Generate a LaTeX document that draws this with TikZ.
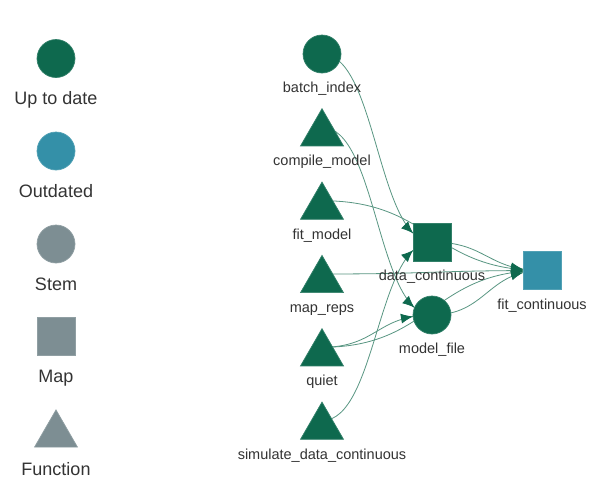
\documentclass[tikz,border=0pt]{standalone}
\usepackage{fontspec}
\setmainfont{Liberation Sans}
\usetikzlibrary{shapes.geometric,arrows.meta,decorations.markings,backgrounds}

\definecolor{uptodate}{RGB}{14,105,78}
\definecolor{outdated}{RGB}{52,144,168}
\definecolor{stem}{RGB}{125,142,147}
\definecolor{edgecol}{RGB}{88,150,130}
\definecolor{txt}{RGB}{51,51,51}

\tikzset{
  shp/.style={inner sep=0pt, outer sep=0pt, line width=0.7pt},
  target/.style={shp, circle, minimum size=38pt, fill=#1, draw=#1!85!white},
  mapbox/.style={shp, rectangle, minimum size=38pt, fill=#1, draw=#1!85!white},
  func/.style={shp, regular polygon, regular polygon sides=3, minimum size=49.6pt, fill=#1, draw=#1!85!white},
  lab/.style={anchor=base, text=txt, font=\fontsize{14.5}{17}\selectfont},
  leglab/.style={anchor=base, text=txt, font=\fontsize{18}{21}\selectfont},
  dep/.style={draw=edgecol, line width=0.8pt, postaction={decorate},
    decoration={markings, mark=at position -#1 with {\arrow[uptodate]{Latex[length=12pt,width=10pt]}}}},
}

\begin{document}
\begin{tikzpicture}[x=1pt,y=-1pt]
  \useasboundingbox (0,0) rectangle (599,488);
  % legend
  \node[target=uptodate] (leg-up) at (56,58.5) {};
  \node[leglab] (leg-up-lab) at (56,104) {Up to date};
  \node[target=outdated] (leg-out) at (56,151) {};
  \node[leglab] (leg-out-lab) at (56,197) {Outdated};
  \node[target=stem] (leg-stem) at (56,244) {};
  \node[leglab] (leg-stem-lab) at (56,290) {Stem};
  \node[mapbox=stem] (leg-map) at (56,336) {};
  \node[leglab] (leg-map-lab) at (56,382) {Map};
  \node[func=stem] (leg-fun) at (56,434.7) {};
  \node[leglab] (leg-fun-lab) at (56,475) {Function};

  % targets
  \node[target=uptodate] (batch) at (322,54) {};
  \node[lab] (batch-lab) at ([yshift=-38.5pt]batch) {batch\_index};
  \node[mapbox=uptodate] (data) at (432,242) {};
  \node[lab] (data-lab) at ([yshift=-38.5pt]data) {data\_continuous};
  \node[target=uptodate] (model) at (432,315) {};
  \node[lab] (model-lab) at ([yshift=-38.5pt]model) {model\_file};
  \node[mapbox=outdated] (fitc) at (542,270.5) {};
  \node[lab] (fitc-lab) at ([yshift=-38.5pt]fitc) {fit\_continuous};

  % functions
  \foreach \name/\y/\txt in {compile/127.3/compile\_model, fitmodel/200.7/fit\_model,
      mapreps/274/map\_reps, quiet/347.3/quiet, simulate/420.7/simulate\_data\_continuous} {
    \coordinate (\name) at (322,\y);
    \node[func=uptodate] (\name-tri) at ([yshift=-6.2pt]\name) {};
    \node[lab] (\name-lab) at ([yshift=-38.5pt]\name) {\txt};
  }

  % dependencies
  \begin{scope}[on background layer]
    \fill[white] (0,0) rectangle (599,488);
    \draw[dep=21.3pt] (batch.center) .. controls +(55,0) and +(-55,0) .. (data.center);
    \draw[dep=21pt] (simulate) .. controls +(55,0) and +(-55,0) .. (data.center);
    \draw[dep=19.5pt] (compile) .. controls +(55,0) and +(-55,0) .. (model.center);
    \draw[dep=19.1pt] (quiet) .. controls +(55,0) and +(-55,0) .. (model.center);
    \draw[dep=19pt] (data.center) .. controls +(55,0) and +(-55,0) .. (fitc.center);
    \draw[dep=19pt] (model.center) .. controls +(55,0) and +(-55,0) .. (fitc.center);
    \draw[dep=19pt] (fitmodel) .. controls +(110,0) and +(-110,0) .. (fitc.center);
    \draw[dep=19pt] (mapreps) .. controls +(110,0) and +(-110,0) .. (fitc.center);
    \draw[dep=19pt] (quiet) .. controls +(110,0) and +(-110,0) .. (fitc.center);
  \end{scope}
\end{tikzpicture}
\end{document}
